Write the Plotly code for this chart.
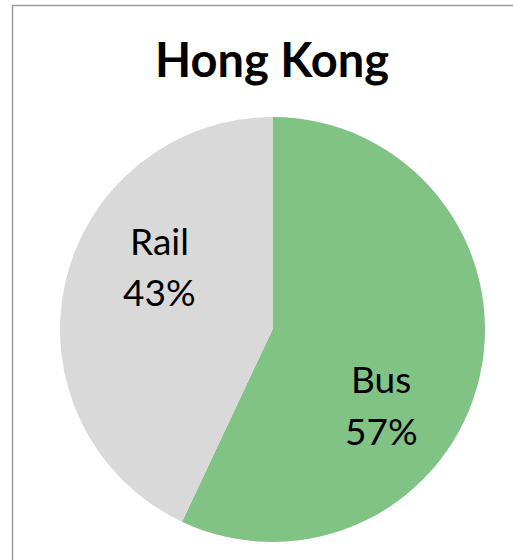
import plotly.graph_objects as go

# Mode share of public transport trips
modes = ["Bus", "Rail"]
shares = [57, 43]
colors = ["#81C285", "#D9D9D9"]
title_text = "Hong Kong"

W, H = 513, 560

fig = go.Figure(
    go.Pie(
        labels=modes,
        values=shares,
        sort=False,
        direction="clockwise",
        rotation=0,
        marker=dict(colors=colors, line=dict(width=0)),
        textinfo="none",
        hoverinfo="label+percent",
        showlegend=False,
        domain=dict(x=[60 / W, 485 / W], y=[18 / H, 443 / H]),
    )
)

# label placement (paper coords) for each slice: name line and percent line
label_pos = {"Bus": (381 / W, 1 - 378 / H, 1 - 430 / H),
             "Rail": (159 / W, 1 - 240 / H, 1 - 291 / H)}
total = sum(shares)
annotations = []
for m, v in zip(modes, shares):
    x, y1, y2 = label_pos[m]
    annotations.append(dict(x=x, y=y1, xref="paper", yref="paper", text=m,
                            showarrow=False, xanchor="center", yanchor="middle",
                            font=dict(family="Lato", size=37, color="#000000")))
    annotations.append(dict(x=x, y=y2, xref="paper", yref="paper",
                            text=f"{round(100 * v / total)}%",
                            showarrow=False, xanchor="center", yanchor="middle",
                            font=dict(family="Lato", size=37, color="#000000")))

annotations.append(dict(x=272 / W, y=1 - 59 / H, xref="paper", yref="paper",
                        text=f"<b>{title_text}</b>", showarrow=False,
                        xanchor="center", yanchor="middle",
                        font=dict(family="Lato", size=47, color="#000000")))

fig.update_layout(
    width=W, height=H,
    margin=dict(l=0, r=0, t=0, b=0),
    paper_bgcolor="#FFFFFF",
    plot_bgcolor="#FFFFFF",
    annotations=annotations,
    shapes=[dict(type="rect", xref="paper", yref="paper",
                 x0=12.5 / W, x1=1.2, y0=-0.2, y1=1 - 5.5 / H,
                 line=dict(color="#9A9A9A", width=1.5), fillcolor="rgba(0,0,0,0)")],
)

fig.write_html("out.html")
